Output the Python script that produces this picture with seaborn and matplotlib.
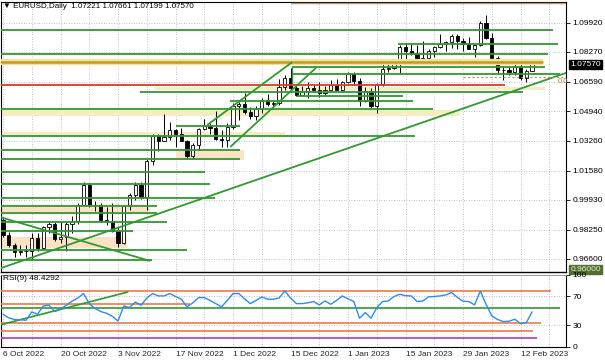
import numpy as np
import pandas as pd
import matplotlib
matplotlib.use("Agg")
import matplotlib.pyplot as plt
import matplotlib.transforms as mtransforms
from matplotlib.ticker import FixedLocator, NullFormatter
import seaborn as sns

# ---------------- data ----------------
date_labels = ["6 Oct 2022", "20 Oct 2022", "3 Nov 2022", "17 Nov 2022", "1 Dec 2022",
               "15 Dec 2022", "1 Jan 2023", "15 Jan 2023", "29 Jan 2023", "12 Feb 2023"]
date_label_bars = [0, 10, 20, 30, 40, 50, 60, 70, 80, 90]

opens = [0.9882, 0.9795, 0.9741, 0.9700, 0.9705, 0.9705, 0.9780, 0.9722, 0.9838, 0.9855,
         0.9775, 0.9784, 0.9860, 0.9876, 0.9966, 1.0078, 0.9963, 0.9965, 0.9881, 0.9877,
         0.9820, 0.9750, 0.9961, 1.0019, 1.0075, 1.0010, 1.0210, 1.0355, 1.0325, 1.0350,
         1.0385, 1.0363, 1.0325, 1.0241, 1.0305, 1.0395, 1.0410, 1.0400, 1.0335, 1.0330,
         1.0405, 1.0525, 1.0535, 1.0490, 1.0465, 1.0505, 1.0555, 1.0535, 1.0540, 1.0630,
         1.0680, 1.0625, 1.0585, 1.0605, 1.0625, 1.0610, 1.0595, 1.0615, 1.0640, 1.0615,
         1.0660, 1.0705, 1.0665, 1.0550, 1.0605, 1.0520, 1.0645, 1.0730, 1.0735, 1.0760,
         1.0855, 1.0830, 1.0820, 1.0790, 1.0795, 1.0830, 1.0855, 1.0870, 1.0885, 1.0915,
         1.0890, 1.0870, 1.0845, 1.0865, 1.0990, 1.0905, 1.0795, 1.0725, 1.0725, 1.0715,
         1.0740, 1.0680, 1.07221]
highs = [0.9899, 0.9810, 0.9749, 0.9740, 0.9737, 0.9807, 0.9808, 0.9848, 0.9875, 0.9867,
         0.9875, 0.9872, 0.9904, 0.9977, 1.0094, 1.0088, 0.9986, 0.9973, 0.9954, 0.9976,
         0.9840, 0.9961, 1.0033, 1.0096, 1.0093, 1.0222, 1.0365, 1.0366, 1.0480, 1.0433,
         1.0390, 1.0400, 1.0330, 1.0315, 1.0400, 1.0448, 1.0428, 1.0497, 1.0388, 1.0426,
         1.0540, 1.0546, 1.0595, 1.0518, 1.0521, 1.0565, 1.0588, 1.0550, 1.0673, 1.0695,
         1.0737, 1.0643, 1.0637, 1.0658, 1.0639, 1.0655, 1.0636, 1.0670, 1.0673, 1.0665,
         1.0713, 1.0713, 1.0683, 1.0628, 1.0625, 1.0651, 1.0760, 1.0760, 1.0777, 1.0868,
         1.0875, 1.0874, 1.0867, 1.0887, 1.0841, 1.0858, 1.0927, 1.0888, 1.0929, 1.0930,
         1.0903, 1.0914, 1.0873, 1.1000, 1.1033, 1.0934, 1.0805, 1.0750, 1.0740, 1.0790,
         1.0761, 1.0730, 1.07661]
lows = [0.9786, 0.9728, 0.9670, 0.9685, 0.9672, 0.9660, 0.9706, 0.9716, 0.9808, 0.9761,
        0.9752, 0.9705, 0.9809, 0.9857, 0.9960, 0.9951, 0.9933, 0.9870, 0.9853, 0.9813,
        0.9730, 0.9745, 0.9935, 0.9994, 1.0000, 0.9935, 1.0190, 1.0270, 1.0324, 1.0330,
        1.0291, 1.0325, 1.0223, 1.0226, 1.0275, 1.0387, 1.0362, 1.0330, 1.0290, 1.0289,
        1.0395, 1.0443, 1.0480, 1.0450, 1.0443, 1.0485, 1.0520, 1.0505, 1.0530, 1.0610,
        1.0600, 1.0580, 1.0580, 1.0570, 1.0600, 1.0575, 1.0583, 1.0612, 1.0610, 1.0606,
        1.0650, 1.0640, 1.0520, 1.0545, 1.0510, 1.0483, 1.0637, 1.0713, 1.0730, 1.0710,
        1.0774, 1.0810, 1.0766, 1.0766, 1.0770, 1.0800, 1.0850, 1.0833, 1.0852, 1.0845,
        1.0835, 1.0841, 1.0800, 1.0858, 1.0900, 1.0789, 1.0708, 1.0669, 1.0695, 1.0700,
        1.0669, 1.0659, 1.07199]
closes = [0.9795, 0.9741, 0.9700, 0.9705, 0.9705, 0.9780, 0.9722, 0.9838, 0.9855, 0.9775,
          0.9784, 0.9860, 0.9876, 0.9966, 1.0078, 0.9963, 0.9965, 0.9881, 0.9877, 0.9820,
          0.9750, 0.9961, 1.0019, 1.0075, 1.0010, 1.0210, 1.0355, 1.0325, 1.0350, 1.0385,
          1.0363, 1.0325, 1.0241, 1.0305, 1.0395, 1.0410, 1.0400, 1.0335, 1.0330, 1.0405,
          1.0525, 1.0535, 1.0490, 1.0465, 1.0505, 1.0555, 1.0535, 1.0540, 1.0630, 1.0680,
          1.0625, 1.0585, 1.0605, 1.0625, 1.0610, 1.0595, 1.0615, 1.0640, 1.0615, 1.0660,
          1.0705, 1.0665, 1.0550, 1.0605, 1.0520, 1.0645, 1.0730, 1.0735, 1.0760, 1.0855,
          1.0830, 1.0820, 1.0790, 1.0795, 1.0830, 1.0855, 1.0870, 1.0885, 1.0915, 1.0890,
          1.0870, 1.0845, 1.0865, 1.0990, 1.0905, 1.0795, 1.0725, 1.0725, 1.0715, 1.0740,
          1.0680, 1.0722, 1.07570]
rsi_values = [45.2, 40.1, 37.9, 37.4, 36.8, 48.4, 45.2, 56.6, 57.7, 48.9,
              52.2, 57.7, 63.2, 67.6, 73.9, 59.9, 53.3, 48.9, 46.5, 42.3,
              35.7, 56.6, 54.4, 62.1, 57.7, 67.6, 73.9, 70.6, 70.6, 73.9,
              69.8, 66.0, 55.5, 61.0, 68.3, 68.3, 64.3, 59.9, 55.5, 64.3,
              73.9, 73.9, 66.5, 59.9, 64.3, 69.3, 66.0, 66.0, 67.6, 77.5,
              67.6, 59.9, 59.9, 61.0, 62.8, 58.1, 63.6, 59.0, 64.3, 70.6,
              66.5, 62.8, 39.6, 47.5, 39.6, 54.4, 62.8, 63.6, 69.8, 72.9,
              70.9, 70.6, 62.8, 63.6, 69.3, 69.8, 70.6, 72.0, 75.3, 68.7,
              63.2, 62.8, 58.1, 77.5, 58.8, 42.9, 37.9, 34.9, 35.5, 38.2,
              32.2, 33.5, 48.43]

price_ticks = [1.09920, 1.08270, 1.06590, 1.04940, 1.03260, 1.01580, 0.99930, 0.98250, 0.96600]
rsi_ticks = [0, 30, 70, 100]

# horizontal support / resistance levels (price, first bar, last bar)
green_level = [1.0951, 1.0872, 1.0816, 1.0742, 1.0703, 1.0601, 1.0579, 1.0551, 1.0505, 1.0410,
               1.0353, 1.0274, 1.0221, 1.0150, 1.0083, 1.0004, 0.9959, 0.9917, 0.9869, 0.9818,
               0.9711, 0.9654]
green_from = [-1, 68.7, -1, 50.3, 50.3, 23.8, 51.1, 39.5, -1, 30.0,
              -1, -1, -1, -1, -1, -1, -1, -1, -1, -1, -1, -1]
green_to = [95.7, 96.5, 94.8, 94.3, 96.9, 90.4, 69.6, 71.3, 74.8, 41.2,
            71.7, 41.2, 41.2, 35.1, 36.0, 36.9, 26.8, 26.8, 28.5, 22.6, 32.0, 25.9]

zone_low = [1.0612, 1.0466, 1.0355, 1.0218, 0.9920, 0.9722]
zone_high = [1.0630, 1.0500, 1.0375, 1.0274, 0.9953, 0.9784]
zone_from = [26.4, -1, -1, 30.1, -1, -1]
zone_to = [94.3, 79.5, 49.0, 41.9, 25.6, 21.6]
zone_kind = ["yellow", "yellow", "yellow", "peach", "peach", "peach"]

gold_level, gold_from, gold_to = 1.0770, -1, 93.9
red_level, red_from, red_to = 1.0641, -1, 87.3
fib_top, fib_zero, fib_from = 1.1103, 1.0686, 80.0

trend_x0 = [-0.6, -0.6, 35.5, 39.5]
trend_y0 = [0.9606, 0.9897, 1.0415, 1.0291]
trend_x1 = [98.0, 25.6, 50.3, 54.4]
trend_y1 = [1.0710, 0.9649, 1.0770, 1.0737]

rsi_level = [77, 59, 54, 33, 22, 12]
rsi_level_to = [95.3, 32.5, 96.9, 93.6, 92.2, 92.9]
rsi_level_kind = ["orange", "orange", "green", "orange", "orange", "purple"]
rsi_trend_x = [-0.2, 21.7]
rsi_trend_y = [31, 76]

# ---------------- styling ----------------
sns.set_style("white")
plt.rcParams['font.family'] = ['Liberation Sans', 'DejaVu Sans']

GREEN = '#2f9a2f'
GRID = '#a7afb8'
colors = {"yellow": '#f5edc2', "peach": '#fbe2c4', "orange": '#ee7a45',
          "green": GREEN, "purple": '#a23fc4'}
FS = 6

fig = plt.figure(figsize=(6.05, 3.63), dpi=100)
L, R = 1 / 605, 566 / 605
ax = fig.add_axes([L, 1 - 272 / 363, R - L, 270 / 363])
ax2 = fig.add_axes([L, 1 - 346.75 / 363, R - L, 72.0 / 363])

df = pd.DataFrame(dict(bar=np.arange(len(closes)), open=opens, high=highs,
                       low=lows, close=closes, rsi=rsi_values))

# --- main panel ---
ax.set_xlim(-0.35, 97.9)
ax.set_ylim(0.95867, 1.11087)

for lo, hi, a, b, k in zip(zone_low, zone_high, zone_from, zone_to, zone_kind):
    ax.fill_between([a, b], lo, hi, color=colors[k], lw=0, zorder=1)

# candles
ax.vlines(df.bar, df.low, df.high, color='black', lw=0.7, zorder=3)
up = df.close >= df.open
ax.bar(df.bar[up], (df.close - df.open)[up], bottom=df.open[up], width=0.55,
       facecolor='white', edgecolor='black', lw=0.6, zorder=4)
ax.bar(df.bar[~up], (df.close - df.open)[~up], bottom=df.open[~up], width=0.55,
       facecolor='black', edgecolor='black', lw=0.6, zorder=4)

# objects
ax.hlines(gold_level, gold_from, gold_to, color='#f3e39a', lw=4.5, zorder=5)
ax.hlines(gold_level, gold_from, gold_to, color='#c49a1c', lw=1.8, zorder=5)
ax.hlines(green_level, green_from, green_to, color=GREEN, lw=1.3, zorder=5)
ax.hlines(red_level, red_from, red_to, color='#e5352b', lw=1.3, zorder=5)
ax.vlines(green_from[3], red_level, green_level[3], color=GREEN, lw=1.0, zorder=5)
for x0, y0, x1, y1 in zip(trend_x0, trend_y0, trend_x1, trend_y1):
    ax.plot([x0, x1], [y0, y1], color=GREEN, lw=1.3, zorder=5, solid_capstyle='butt')
ax.hlines(fib_top, 50, 98, color='#b8906a', lw=1.0, zorder=5)
ax.hlines(fib_zero, fib_from, 98, color='#b8906a', lw=0.8, ls=(0, (2, 2)), zorder=5)
ax.text(96.4, fib_zero - 0.0004, "0.0", fontsize=5.5, color='#a07a55', va='top', ha='left', zorder=6)

ax.yaxis.tick_right()
ax.set_yticks(price_ticks)
ax.set_yticklabels([f"{v:.5f}" for v in price_ticks])
ax.xaxis.set_major_locator(FixedLocator(np.arange(0, 98, 5)))
ax.xaxis.set_major_formatter(NullFormatter())
ax.tick_params(axis='y', direction='out', length=3, width=0.6, labelsize=FS, pad=1.5, colors='black')
ax.tick_params(axis='x', length=0)
ax.grid(True, color=GRID, ls=(0, (1, 2)), lw=0.6, zorder=0)
ax.set_axisbelow(True)

tr = mtransforms.blended_transform_factory(ax.transAxes, ax.transData)
ax.text(1.008, 1.0757, "1.07570", transform=tr, fontsize=FS, color='white', va='center', ha='left',
        bbox=dict(boxstyle='square,pad=0.15', facecolor='black', edgecolor='black'), zorder=10, clip_on=False)
ax.text(1.008, 0.9600, "0.96000", transform=tr, fontsize=FS, color='#e8f0d8', va='center', ha='left',
        bbox=dict(boxstyle='square,pad=0.15', facecolor='#4f6e2f', edgecolor='#4f6e2f'), zorder=10, clip_on=False)

for s in ax.spines.values():
    s.set_color('black')
    s.set_linewidth(0.8)
ax.spines['bottom'].set_linewidth(1.0)

fig.text(3 / 605, 1 - 7 / 363, "\u25BC EURUSD,Daily  1.07221 1.07661 1.07199 1.07570",
         fontsize=5.8, va='center', ha='left', color='black')

# --- RSI panel ---
ax2.set_xlim(-0.35, 97.9)
ax2.set_ylim(0, 100)
for lvl, b, k in zip(rsi_level, rsi_level_to, rsi_level_kind):
    ax2.hlines(lvl, -1, b, color=colors[k], lw=1.2, zorder=3)
ax2.plot(rsi_trend_x, rsi_trend_y, color=GREEN, lw=1.2, zorder=3)
sns.lineplot(data=df, x='bar', y='rsi', ax=ax2, color='#2b8cf0', lw=1.0, zorder=5)
ax2.set_xlabel('')
ax2.set_ylabel('')

ax2.yaxis.tick_right()
ax2.set_yticks(rsi_ticks)
ax2.set_yticklabels([str(v) for v in rsi_ticks])
ax2.set_xticks(date_label_bars)
ax2.set_xticklabels(date_labels, ha='left')
ax2.xaxis.set_minor_locator(FixedLocator(np.arange(5, 98, 10)))
ax2.tick_params(axis='y', direction='out', length=3, width=0.6, labelsize=FS, pad=1.5, colors='black')
ax2.tick_params(axis='x', which='both', length=0, labelsize=FS, pad=3)
ax2.grid(True, which='both', color=GRID, ls=(0, (1, 2)), lw=0.6, zorder=0)
ax2.set_axisbelow(True)
for s in ax2.spines.values():
    s.set_color('black')
    s.set_linewidth(0.8)
ax2.spines['top'].set_color('#888888')
ax2.spines['top'].set_linewidth(0.6)

fig.text(3 / 605, 1 - 279 / 363, "RSI(9) 48.4292", fontsize=FS, va='center', ha='left', color='black')

fig.savefig("out.png", dpi=100, facecolor='white')
